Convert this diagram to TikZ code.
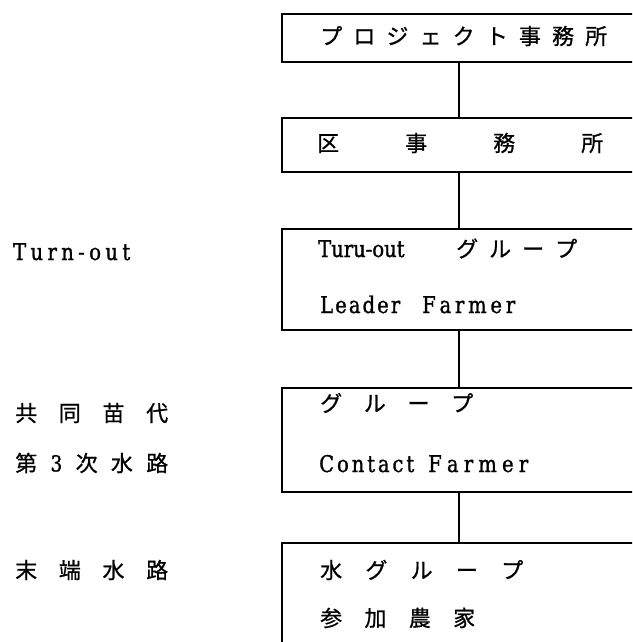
\documentclass[tikz,border=0pt]{standalone}
\usepackage{fontspec}
\setmainfont{DejaVu Serif}[FakeStretch=0.85, FakeBold=1.2]
\newfontfamily\jp{Noto Sans CJK JP}[FakeBold=0.8]
\begin{document}
\begin{tikzpicture}[x=1pt,y=-1pt,
  box/.style={draw, line width=1.7pt, rectangle, anchor=north west, inner sep=0pt, minimum width=420pt},
  jt/.style={anchor=west, inner sep=0pt, font=\jp\fontsize{22}{22}\selectfont},
  lt/.style={anchor=base west, inner sep=0pt, font=\fontsize{23}{24}\selectfont},
  link/.style={line width=1.7pt}]
\useasboundingbox[fill=white] (0,0) rectangle (632,642);
\clip (0,0) rectangle (632,642);
\coordinate (spine) at (459,0);
% boxes
\node[box, minimum height=48pt]  (b1) at (281,13)  {};
\node[box, minimum height=54pt]  (b2) at (281,117) {};
\node[box, minimum height=101pt] (b3) at (281,228) {};
\node[box, minimum height=104pt] (b4) at (281,387) {};
\node[box, minimum height=150pt] (b5) at (281,542) {};
% connectors
\draw[link] (b1.south -| spine) -- (b2.north -| spine);
\draw[link] (b2.south -| spine) -- (b3.north -| spine);
\draw[link] (b3.south -| spine) -- (b4.north -| spine);
\draw[link] (b4.south -| spine) -- (b5.north -| spine);
% box texts
\node[jt] (t1) at (320,36) {\makebox[287pt][s]{プ\hfill ロ\hfill ジ\hfill ェ\hfill ク\hfill ト\hfill 事\hfill 務\hfill 所}};
\node[jt] (t2) at (317,143) {\makebox[286pt][s]{区\hfill 事\hfill 務\hfill 所}};
\node[lt] (t3a) at (318,257) {\makebox[80pt][s]{T\hfill u\hfill r\hfill u\hfill -\hfill o\hfill u\hfill t}\hspace{58pt}{\jp\fontsize{22}{22}\selectfont\makebox[121pt][s]{グ\hfill ル\hfill ー\hfill プ}}};
\node[lt] (t3b) at (320,313) {\makebox[80pt][s]{L\hfill e\hfill a\hfill d\hfill e\hfill r}\hspace{22pt}\makebox[93pt][s]{F\hfill a\hfill r\hfill m\hfill e\hfill r}};
\node[jt] (t4a) at (320,403) {\makebox[153pt][s]{グ\hfill ル\hfill ー\hfill プ}};
\node[lt] (t4b) at (319,472) {\makebox[95pt][s]{C\hfill o\hfill n\hfill t\hfill a\hfill c\hfill t}\hspace{14pt}\makebox[100pt][s]{F\hfill a\hfill r\hfill m\hfill e\hfill r}};
\node[jt] (t5a) at (320,570) {\makebox[203pt][s]{水\hfill グ\hfill ル\hfill ー\hfill プ}};
\node[jt] (t5b) at (320,618) {\makebox[155pt][s]{参\hfill 加\hfill 農\hfill 家}};
% left labels
\node[lt] (l1) at (13,260) {\makebox[117pt][s]{T\hfill u\hfill r\hfill n\hfill -\hfill o\hfill u\hfill t}};
\node[jt] (l2) at (15,413) {\makebox[153pt][s]{共\hfill 同\hfill 苗\hfill 代}};
\node[jt] (l3) at (15,463) {\makebox[153pt][s]{第\hfill {\rmfamily 3}\hfill 次\hfill 水\hfill 路}};
\node[jt] (l4) at (15,570) {\makebox[153pt][s]{末\hfill 端\hfill 水\hfill 路}};
\end{tikzpicture}
\end{document}
